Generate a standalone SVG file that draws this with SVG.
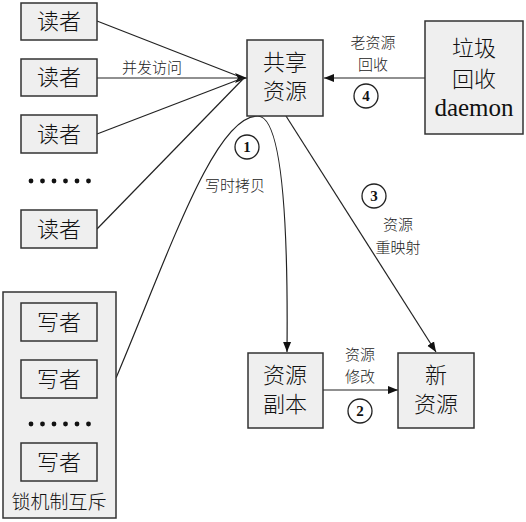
<svg xmlns="http://www.w3.org/2000/svg" width="526" height="522" viewBox="0 0 526 522">
<style>
.box{fill:#efefef;stroke:#333;stroke-width:1.5}
.t{font-family:"Liberation Serif","Noto Sans CJK SC",serif;font-weight:300;fill:#111;text-anchor:middle}
.n{font-size:22px}
.l{font-size:15px;fill:#222}
.c{fill:#fff;stroke:#222;stroke-width:1.3}
.cn{font-family:"Liberation Serif",serif;font-weight:bold;font-size:15px;text-anchor:middle;fill:#111}
.ln{fill:none;stroke:#222;stroke-width:1.2}
.dot{fill:#111}
</style>
<defs>
<marker id="ah" viewBox="0 0 10 10" refX="10" refY="5" markerWidth="10" markerHeight="10" markerUnits="userSpaceOnUse" orient="auto">
<path d="M0,1 L10,5 L0,9 Z" fill="#111"/>
</marker>
<marker id="ah2" viewBox="0 0 12 12" refX="12" refY="6" markerWidth="12" markerHeight="12" markerUnits="userSpaceOnUse" orient="auto">
<path d="M0,1 L12,6 L0,11 L3,6 Z" fill="#111"/>
</marker>
</defs>
<rect width="526" height="522" fill="#fff"/>

<g id="connectors">
<line class="ln" x1="97" y1="21" x2="243" y2="78"/>
<line class="ln" x1="97" y1="78" x2="247" y2="78" marker-end="url(#ah2)"/>
<line class="ln" x1="97" y1="134" x2="243" y2="78"/>
<line class="ln" x1="97" y1="229" x2="243" y2="79"/>
<line class="ln" x1="425" y1="78" x2="324" y2="78" marker-end="url(#ah)"/>
<line class="ln" x1="286" y1="116" x2="436" y2="352" marker-end="url(#ah)"/>
<line class="ln" x1="323" y1="390" x2="398" y2="390" marker-end="url(#ah)"/>
<path class="ln" d="M116,378 C170,250 215,115 258,116 C285,117 288,250 287,352" marker-end="url(#ah)"/>
</g>

<g id="reader1"><rect class="box" x="21" y="3" width="76" height="37"/><text class="t n" x="59" y="29">读者</text></g>
<g id="reader2"><rect class="box" x="21" y="59" width="76" height="37"/><text class="t n" x="59" y="85">读者</text></g>
<g id="reader3"><rect class="box" x="21" y="115" width="76" height="38"/><text class="t n" x="59" y="142">读者</text></g>
<g id="reader-dots">
<circle class="dot" cx="31" cy="181" r="2.4"/><circle class="dot" cx="42.5" cy="181" r="2.4"/><circle class="dot" cx="54" cy="181" r="2.4"/><circle class="dot" cx="65.5" cy="181" r="2.4"/><circle class="dot" cx="77" cy="181" r="2.4"/><circle class="dot" cx="88.5" cy="181" r="2.4"/>
</g>
<g id="reader4"><rect class="box" x="21" y="210" width="76" height="38"/><text class="t n" x="59" y="237">读者</text></g>

<g id="label-concurrent"><text class="t l" x="152" y="73">并发访问</text></g>

<g id="shared"><rect class="box" x="247" y="40" width="76" height="76"/><text class="t n" x="285" y="70">共享</text><text class="t n" x="285" y="99">资源</text></g>

<g id="gc"><rect class="box" x="425" y="21" width="98" height="113"/><text class="t n" x="474" y="56">垃圾</text><text class="t n" x="474" y="87">回收</text><text class="t" style="font-size:25px" x="474" y="116">daemon</text></g>

<g id="label-4"><text class="t l" x="373" y="48">老资源</text><text class="t l" x="373" y="70">回收</text><circle class="c" cx="366" cy="96" r="12"/><text class="cn" x="366" y="101">4</text></g>

<g id="label-1"><circle class="c" cx="247" cy="147" r="12"/><text class="cn" x="247" y="152">1</text><text class="t l" x="235" y="191">写时拷贝</text></g>

<g id="label-3"><circle class="c" cx="374" cy="196" r="12"/><text class="cn" x="374" y="201">3</text><text class="t l" x="398" y="230">资源</text><text class="t l" x="398" y="253">重映射</text></g>

<g id="copy"><rect class="box" x="248" y="353" width="75" height="75"/><text class="t n" x="285" y="383">资源</text><text class="t n" x="285" y="412">副本</text></g>

<g id="label-2"><text class="t l" x="360" y="360">资源</text><text class="t l" x="360" y="382">修改</text><circle class="c" cx="360" cy="411" r="12"/><text class="cn" x="360" y="416">2</text></g>

<g id="newres"><rect class="box" x="398" y="353" width="76" height="75"/><text class="t n" x="436" y="383">新</text><text class="t n" x="436" y="412">资源</text></g>

<g id="writers">
<rect class="box" x="3" y="292" width="113" height="226"/>
<rect class="box" x="21" y="303" width="76" height="38"/><text class="t n" x="59" y="330">写者</text>
<rect class="box" x="21" y="360" width="76" height="38"/><text class="t n" x="59" y="387">写者</text>
<circle class="dot" cx="31" cy="424" r="2.4"/><circle class="dot" cx="42.5" cy="424" r="2.4"/><circle class="dot" cx="54" cy="424" r="2.4"/><circle class="dot" cx="65.5" cy="424" r="2.4"/><circle class="dot" cx="77" cy="424" r="2.4"/><circle class="dot" cx="88.5" cy="424" r="2.4"/>
<rect class="box" x="21" y="443" width="76" height="38"/><text class="t n" x="59" y="470">写者</text>
<text class="t" style="font-size:19px" x="59" y="509">锁机制互斥</text>
</g>
</svg>
